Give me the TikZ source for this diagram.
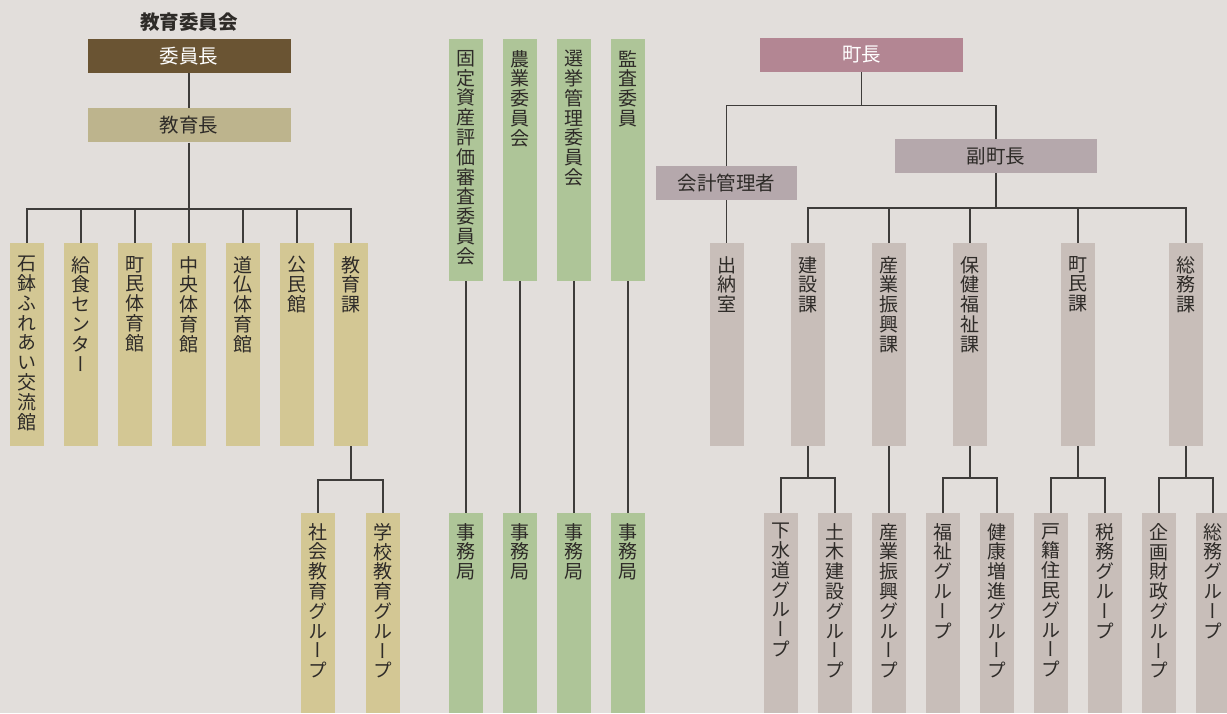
\documentclass[tikz,border=0pt]{standalone}
\usepackage{fontspec}
\setmainfont{Noto Sans CJK JP}
\newfontfamily\tatefont[RawFeature=+vert]{Noto Sans CJK JP}
\usetikzlibrary{positioning}

\definecolor{paper}{HTML}{E2DEDB}
\definecolor{ink}{HTML}{2E2B28}
\definecolor{wire}{HTML}{3E3C3A}
\definecolor{chairc}{HTML}{6A5433}
\definecolor{suptc}{HTML}{BDB48D}
\definecolor{tanc}{HTML}{D3C794}
\definecolor{greenc}{HTML}{AEC598}
\definecolor{mayorc}{HTML}{B38693}
\definecolor{deputyc}{HTML}{B5A8AC}
\definecolor{greyc}{HTML}{C8BEB9}

\begin{document}
\begin{tikzpicture}[x=1pt, y=-1pt, node distance=20pt,
    wireline/.style={draw=wire, line width=1.2pt},
    head/.style={minimum width=203pt, minimum height=34pt, inner sep=0pt,
        font=\fontsize{19.5}{20}\selectfont},
    col/.style={minimum width=34pt, inner sep=0pt, outer sep=0pt},
    tall/.style={col, minimum height=203pt},
    low/.style={col, minimum height=200pt},
    tate/.style={anchor=north, yshift=-13pt, inner sep=0pt, align=center, text=ink,
        font=\tatefont\fontsize{19}{19.8}\selectfont},
    tateg/.style={tate, yshift=3pt}]
    \useasboundingbox (0,0) rectangle (1227,713);
    \fill[paper] (0,0) rectangle (1227,713);

    % board of education
    \node[font=\bfseries\fontsize{19.5}{20}\selectfont, text=ink] (board) at (189,22) {教育委員会};
    \node[head, fill=chairc, text=white] (chair) at (189,56) {委員長};
    \node[head, fill=suptc, text=ink, below=35pt of chair] (supt) {教育長};
    \node[tall, fill=tanc, anchor=north, label={[tate]north:石\\鉢\\ふ\\れ\\あ\\い\\交\\流\\館}] (r1) at (27,243) {};
    \node[tall, fill=tanc, right=of r1, label={[tate]north:給\\食\\セ\\ン\\タ\\ー}] (r2) {};
    \node[tall, fill=tanc, right=of r2, label={[tate]north:町\\民\\体\\育\\館}] (r3) {};
    \node[tall, fill=tanc, right=of r3, label={[tate]north:中\\央\\体\\育\\館}] (r4) {};
    \node[tall, fill=tanc, right=of r4, label={[tate]north:道\\仏\\体\\育\\館}] (r5) {};
    \node[tall, fill=tanc, right=of r5, label={[tate]north:公\\民\\館}] (r6) {};
    \node[tall, fill=tanc, right=of r6, label={[tate]north:教\\育\\課}] (r7) {};
    \node[low, fill=tanc, anchor=north, label={[tateg]north:社\\会\\教\\育\\グ\\ル\\ー\\プ}] (s1) at (318,513) {};
    \node[low, fill=tanc, anchor=north, label={[tateg]north:学\\校\\教\\育\\グ\\ル\\ー\\プ}] (s2) at (383,513) {};

    \draw[wireline] (chair) -- (supt);
    \draw[wireline] (supt) -- (r4);
    \draw[wireline] (r1.north) -- ++(0,-34) -| (r7.north);
    \draw[wireline] (r2.north) -- ++(0,-34);
    \draw[wireline] (r3.north) -- ++(0,-34);
    \draw[wireline] (r5.north) -- ++(0,-34);
    \draw[wireline] (r6.north) -- ++(0,-34);
    \draw[wireline] (r7.south) -- ++(0,34);
    \draw[wireline] (s1.north) -- ++(0,-33) -| (s2.north);

    % committees
    \node[col, minimum height=242pt, fill=greenc, anchor=north, label={[tate,yshift=2pt]north:固\\定\\資\\産\\評\\価\\審\\査\\委\\員\\会}] (g1) at (466,39) {};
    \node[col, minimum height=242pt, fill=greenc, right=of g1, label={[tate,yshift=2pt]north:農\\業\\委\\員\\会}] (g2) {};
    \node[col, minimum height=242pt, fill=greenc, right=of g2, label={[tate,yshift=2pt]north:選\\挙\\管\\理\\委\\員\\会}] (g3) {};
    \node[col, minimum height=242pt, fill=greenc, right=of g3, label={[tate,yshift=2pt]north:監\\査\\委\\員}] (g4) {};
    \node[low, fill=greenc, anchor=north, label={[tateg]north:事\\務\\局}] (o1) at (466,513) {};
    \node[low, fill=greenc, right=of o1, label={[tateg]north:事\\務\\局}] (o2) {};
    \node[low, fill=greenc, right=of o2, label={[tateg]north:事\\務\\局}] (o3) {};
    \node[low, fill=greenc, right=of o3, label={[tateg]north:事\\務\\局}] (o4) {};
    \draw[wireline] (g1) -- (o1);
    \draw[wireline] (g2) -- (o2);
    \draw[wireline] (g3) -- (o3);
    \draw[wireline] (g4) -- (o4);

    % town office
    \node[head, fill=mayorc, text=white] (mayor) at (861.5,55) {町長};
    \node[head, minimum width=141pt, fill=deputyc, text=ink] (acct) at (726.5,183) {会計管理者};
    \node[head, minimum width=202pt, fill=deputyc, text=ink] (deputy) at (996,156) {副町長};
    \node[tall, fill=greyc, anchor=north, label={[tate]north:出\\納\\室}] (treas) at (726.5,243) {};
    \node[tall, fill=greyc, anchor=north, label={[tate]north:建\\設\\課}] (kensetsu) at (808,243) {};
    \node[tall, fill=greyc, anchor=north, label={[tate]north:産\\業\\振\\興\\課}] (sangyo) at (889,243) {};
    \node[tall, fill=greyc, anchor=north, label={[tate]north:保\\健\\福\\祉\\課}] (hoken) at (970,243) {};
    \node[tall, fill=greyc, anchor=north, label={[tate]north:町\\民\\課}] (chomin) at (1078,243) {};
    \node[tall, fill=greyc, anchor=north, label={[tate]north:総\\務\\課}] (somu) at (1186,243) {};
    \node[low, fill=greyc, anchor=north, label={[tateg]north:下\\水\\道\\グ\\ル\\ー\\プ}] (gesui) at (781,513) {};
    \node[low, fill=greyc, right=of gesui, label={[tateg]north:土\\木\\建\\設\\グ\\ル\\ー\\プ}] (doboku) {};
    \node[low, fill=greyc, right=of doboku, label={[tateg]north:産\\業\\振\\興\\グ\\ル\\ー\\プ}] (shinko) {};
    \node[low, fill=greyc, right=of shinko, label={[tateg]north:福\\祉\\グ\\ル\\ー\\プ}] (fukushi) {};
    \node[low, fill=greyc, right=of fukushi, label={[tateg]north:健\\康\\増\\進\\グ\\ル\\ー\\プ}] (kenko) {};
    \node[low, fill=greyc, right=of kenko, label={[tateg]north:戸\\籍\\住\\民\\グ\\ル\\ー\\プ}] (koseki) {};
    \node[low, fill=greyc, right=of koseki, label={[tateg]north:税\\務\\グ\\ル\\ー\\プ}] (zeimu) {};
    \node[low, fill=greyc, right=of zeimu, label={[tateg]north:企\\画\\財\\政\\グ\\ル\\ー\\プ}] (kikaku) {};
    \node[low, fill=greyc, right=of kikaku, label={[tateg]north:総\\務\\グ\\ル\\ー\\プ}] (somug) {};

    \draw[wireline] (mayor.south) -- ++(0,34);
    \draw[wireline] (acct.north) -- ++(0,-60) -| (deputy.north);
    \draw[wireline] (acct) -- (treas);
    \draw[wireline] (deputy.south) -- ++(0,35);
    \draw[wireline] (kensetsu.north) -- ++(0,-35) -| (somu.north);
    \draw[wireline] (sangyo.north) -- ++(0,-35);
    \draw[wireline] (hoken.north) -- ++(0,-35);
    \draw[wireline] (chomin.north) -- ++(0,-35);
    \draw[wireline] (kensetsu.south) -- ++(0,32);
    \draw[wireline] (gesui.north) -- ++(0,-35) -| (doboku.north);
    \draw[wireline] (sangyo) -- (shinko);
    \draw[wireline] (hoken.south) -- ++(0,32);
    \draw[wireline] (fukushi.north) -- ++(0,-35) -| (kenko.north);
    \draw[wireline] (chomin.south) -- ++(0,32);
    \draw[wireline] (koseki.north) -- ++(0,-35) -| (zeimu.north);
    \draw[wireline] (somu.south) -- ++(0,32);
    \draw[wireline] (kikaku.north) -- ++(0,-35) -| (somug.north);
\end{tikzpicture}
\end{document}
